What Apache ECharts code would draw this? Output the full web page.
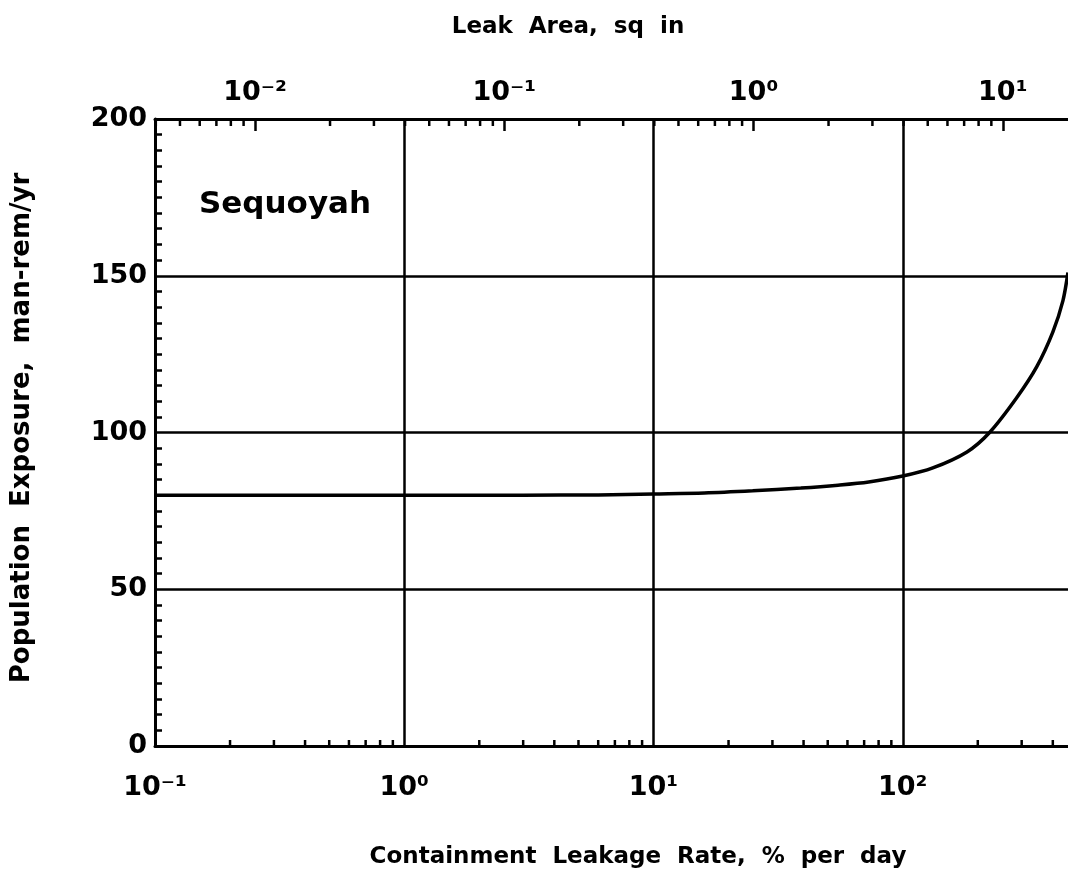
<!DOCTYPE html>
<html>
<head>
<meta charset="utf-8">
<title>Sequoyah</title>
<script src="https://cdn.jsdelivr.net/npm/echarts@6/dist/echarts.min.js"></script>
<style>
	html, body { margin: 0; padding: 0; background: #fff; }
	#chart { width: 1068px; height: 876px; }
</style>
</head>
<body>
<div id="chart"></div>
<script>
// containment leakage rate (% per day) vs population exposure (man-rem/yr)
var leakRate = [0.1, 1, 3, 6, 10, 16, 25, 39, 55, 73, 100, 132, 181, 223, 286, 345, 400, 439, 460];
var exposure = [80, 80, 80, 80.1, 80.4, 80.7, 81.4, 82.3, 83.2, 84.2, 86.1, 88.7, 93.8, 100, 111, 121, 132, 142, 151];

// leak area in sq in for a rate of 1 % per day (top axis offset)
var areaPerRate = 0.0397;

var rateMin = 0.1, rateMax = 1000;
var yTicks = [0, 50, 100, 150, 200];

// log minor ticks: multipliers within each decade
var minorSteps = [2, 3, 4, 5, 6, 7, 8, 9];
var rateDecades = [0.1, 1, 10, 100];
var areaDecades = [0.001, 0.01, 0.1, 1, 10];

var supDigits = { '-': '\u207B', '0': '\u2070', '1': '\u00B9', '2': '\u00B2', '3': '\u00B3' };
function powLabel(value) {
	var e = String(Math.round(Math.log10(value)));
	var s = '';
	for (var i = 0; i < e.length; i++) s += supDigits[e[i]];
	return '10' + s;
}

function minorList(decades, lo, hi, yVal) {
	var out = [];
	for (var i = 0; i < decades.length; i++) {
		for (var j = 0; j < minorSteps.length; j++) {
			var v = decades[i] * minorSteps[j];
			if (v > lo && v < hi) out.push([v, yVal]);
		}
	}
	return out;
}

var font = 'DejaVu Sans';
var bottomMinor = minorList(rateDecades, rateMin, rateMax, 0);
var topMinor = minorList(areaDecades, rateMin * areaPerRate, rateMax * areaPerRate, 200);

function tickItem(len) {
	return function (params, api) {
		var p = api.coord([api.value(0), api.value(1)]);
		return {
			type: 'line',
			shape: { x1: p[0], y1: p[1], x2: p[0], y2: p[1] + len },
			style: { stroke: '#000', lineWidth: 2.5 }
		};
	};
}

var myChart = echarts.init(document.getElementById('chart'));
var option = {
	backgroundColor: '#fff',
	animation: false,
	grid: {
		left: 155, top: 119, width: 997, height: 627,
		containLabel: false, outerBoundsMode: 'none'
	},
	xAxis: [
		{
			type: 'log', logBase: 10, min: rateMin, max: rateMax, position: 'bottom',
			axisLine: { show: true, lineStyle: { color: '#000', width: 3 } },
			axisTick: { show: false },
			splitLine: { show: true, lineStyle: { color: '#000', width: 2.5 } },
			axisLabel: {
				margin: 28, color: '#000', fontFamily: font, fontWeight: 'bold', fontSize: 27,
				showMaxLabel: false, formatter: powLabel
			}
		},
		{
			type: 'log', logBase: 10, min: rateMin * areaPerRate, max: rateMax * areaPerRate, position: 'top',
			axisLine: { show: true, onZero: false, lineStyle: { color: '#000', width: 3 } },
			axisTick: { show: true, inside: true, length: 12, lineStyle: { color: '#000', width: 2.5 } },
			splitLine: { show: false },
			axisLabel: {
				margin: 13, color: '#000', fontFamily: font, fontWeight: 'bold', fontSize: 27,
				showMinLabel: false, showMaxLabel: false, formatter: powLabel
			}
		}
	],
	yAxis: {
		type: 'value', min: yTicks[0], max: yTicks[yTicks.length - 1], interval: 50,
		axisLine: { show: true, lineStyle: { color: '#000', width: 3 } },
		axisTick: { show: false, inside: true },
		minorTick: { show: true, splitNumber: 10, length: 7, lineStyle: { color: '#000', width: 2.5 } },
		splitLine: { show: true, lineStyle: { color: '#000', width: 2.5 } },
		axisLabel: { margin: 8, color: '#000', fontFamily: font, fontWeight: 'bold', fontSize: 27 }
	},
	graphic: [
		{
			type: 'text', x: 568, y: 27,
			style: {
				text: 'Leak  Area,  sq  in', fill: '#000',
				font: 'bold 23px "DejaVu Sans"', align: 'center', verticalAlign: 'middle'
			}
		},
		{
			type: 'text', x: 638, y: 857,
			style: {
				text: 'Containment  Leakage  Rate,  %  per  day', fill: '#000',
				font: 'bold 23px "DejaVu Sans"', align: 'center', verticalAlign: 'middle'
			}
		},
		{
			type: 'text', x: 22, y: 428, rotation: Math.PI / 2,
			style: {
				text: 'Population  Exposure,  man-rem/yr', fill: '#000',
				font: 'bold 26px "DejaVu Sans"', align: 'center', verticalAlign: 'middle'
			}
		},
		{
			type: 'text', x: 199, y: 205,
			style: {
				text: 'Sequoyah', fill: '#000',
				font: 'bold 31px "DejaVu Sans"', align: 'left', verticalAlign: 'middle'
			}
		}
	],
	series: [
		{
			type: 'line', xAxisIndex: 0, yAxisIndex: 0,
			data: leakRate.map(function (r, i) { return [r, exposure[i]]; }),
			smooth: 0.3, showSymbol: false,
			lineStyle: { color: '#000', width: 3.5 }
		},
		{
			type: 'custom', xAxisIndex: 0, yAxisIndex: 0, silent: true,
			renderItem: tickItem(-6), data: bottomMinor, z: 5
		},
		{
			type: 'custom', xAxisIndex: 1, yAxisIndex: 0, silent: true,
			renderItem: tickItem(7), data: topMinor, z: 5
		}
	]
};
myChart.setOption(option);
</script>
</body>
</html>
